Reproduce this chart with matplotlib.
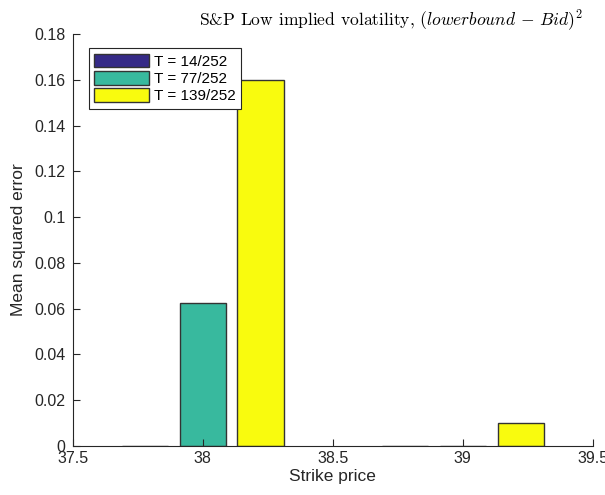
import matplotlib.pyplot as plt
import numpy as np

plt.rcParams['font.family'] = ['Liberation Sans', 'DejaVu Sans']
plt.rcParams['mathtext.fontset'] = 'cm'

# strike prices and MSE per maturity
strikes = [38, 39]
maturities = ["T = 14/252", "T = 77/252", "T = 139/252"]
mse_14 = [0.0, 0.0]
mse_77 = [0.0625, 0.0]
mse_139 = [0.16, 0.01]
colors = ["#352A87", "#38B99E", "#F9FB0E"]

fig = plt.figure(figsize=(6.05, 4.95), dpi=100)
ax = fig.add_axes([0.12, 0.099, 0.86, 0.832])

# grouped bars, matlab-like layout (3 bars per group)
n = 3
group_w = n / (n + 1.5)
bw = group_w / n
offsets = (np.arange(n) - (n - 1) / 2) * bw
for i, vals in enumerate([mse_14, mse_77, mse_139]):
    ax.bar(np.array(strikes) + offsets[i], vals, width=bw * 0.8, color=colors[i],
           edgecolor="#333333", linewidth=1.0, label=maturities[i])

ax.set_xlim(37.5, 39.5)
ax.set_ylim(0, 0.18)
ax.set_xticks([37.5, 38, 38.5, 39, 39.5])
ax.set_xticklabels(["37.5", "38", "38.5", "39", "39.5"])
yt = np.arange(0, 0.181, 0.02)
ax.set_yticks(yt)
ax.set_yticklabels(["0", "0.02", "0.04", "0.06", "0.08", "0.1", "0.12", "0.14", "0.16", "0.18"])

for s in ["top", "right"]:
    ax.spines[s].set_visible(False)
for s in ["left", "bottom"]:
    ax.spines[s].set_color("#262626")
    ax.spines[s].set_linewidth(0.8)
ax.tick_params(direction="in", length=5, width=0.8, colors="#262626", labelsize=11.5)
ax.tick_params(axis="y", pad=5)

ax.set_xlabel("Strike price", fontsize=12.5, color="#262626", labelpad=2)
ax.set_ylabel("Mean squared error", fontsize=12.5, color="#262626", labelpad=6)
ax.set_title(r"S&P Low implied volatility, $(lowerbound\,-\,Bid)^2$",
             fontfamily="cmr10", fontsize=12.6, x=0.612, pad=6)

leg = ax.legend(loc="upper left", bbox_to_anchor=(0.031, 0.966), borderaxespad=0,
                fontsize=11, handlelength=3.6, handleheight=1.0, handletextpad=0.3,
                labelspacing=0.15, borderpad=0.35, fancybox=False, framealpha=1)
leg.get_frame().set_edgecolor("#262626")
leg.get_frame().set_linewidth(0.8)

fig.savefig("out.png", dpi=100)
